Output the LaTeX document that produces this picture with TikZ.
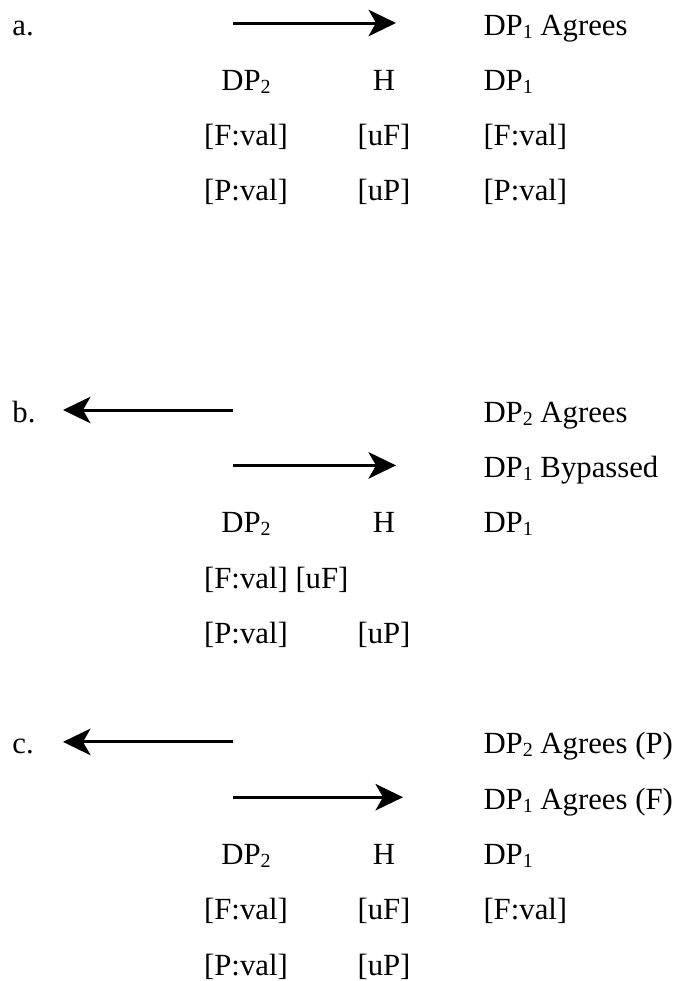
\documentclass[tikz,border=0pt]{standalone}
\usepackage{fontspec}
\setmainfont{Liberation Serif}
\usetikzlibrary{arrows.meta}
\newcommand{\dps}[1]{DP\raisebox{-1.2pt}{\fontsize{8pt}{8pt}\selectfont #1}}

\begin{document}
\begin{tikzpicture}[x=0.4pt, y=-0.4pt,
  txt/.style={font=\fontsize{12.3pt}{14pt}\selectfont, inner sep=0pt},
  lbl/.style={txt, anchor=base west},
  col/.style={txt, anchor=base},
  res/.style={txt, anchor=base west},
  agr/.style={-{Stealth[length=11pt, width=10.6pt, inset=3pt]}, line width=1.2pt},
]
\path[use as bounding box, fill=white] (0,0) rectangle (683,981);

% a.
\node[lbl] (la) at (12,35) {a.};
\coordinate (a-r0) at (233,23);
\coordinate (a-r1) at (396,23);
\draw[agr] (a-r0) -- (a-r1);
\node[res] (a-res) at (483,35) {\dps{1} Agrees};

\node[col] (a-dp2) at (246,90.3) {\dps{2}};
\node[col] (a-h) at (384,90.3) {H};
\node[res] (a-dp1) at (483,90.3) {\dps{1}};
\node[col] (a-f2) at (246,145.6) {[F:val]};
\node[col] (a-fh) at (384,145.6) {[uF]};
\node[res] (a-f1) at (483,145.6) {[F:val]};
\node[col] (a-p2) at (246,200.9) {[P:val]};
\node[col] (a-ph) at (384,200.9) {[uP]};
\node[res] (a-p1) at (483,200.9) {[P:val]};

% b.
\node[lbl] (lb) at (12,422.1) {b.};
\coordinate (b-l0) at (233,410);
\coordinate (b-l1) at (63,410);
\draw[agr] (b-l0) -- (b-l1);
\node[res] (b-res2) at (483,422.1) {\dps{2} Agrees};
\coordinate (b-r0) at (233,465.4);
\coordinate (b-r1) at (396,465.4);
\draw[agr] (b-r0) -- (b-r1);
\node[res] (b-res1) at (483,477.4) {\dps{1} Bypassed};

\node[col] (b-dp2) at (246,532.7) {\dps{2}};
\node[col] (b-h) at (384,532.7) {H};
\node[res] (b-dp1) at (483,532.7) {\dps{1}};
\node[col] (b-f2) at (246,588) {[F:val]};
\node[res] (b-fh) at (295,588) {[uF]};
\node[col] (b-p2) at (246,643.3) {[P:val]};
\node[col] (b-ph) at (384,643.3) {[uP]};

% c.
\node[lbl] (lc) at (12,753.9) {c.};
\coordinate (c-l0) at (233,741.9);
\coordinate (c-l1) at (63,741.9);
\draw[agr] (c-l0) -- (c-l1);
\node[res] (c-res2) at (483,753.9) {\dps{2} Agrees (P)};
\coordinate (c-r0) at (233,797.2);
\coordinate (c-r1) at (403,797.2);
\draw[agr] (c-r0) -- (c-r1);
\node[res] (c-res1) at (483,809.2) {\dps{1} Agrees (F)};

\node[col] (c-dp2) at (246,864.5) {\dps{2}};
\node[col] (c-h) at (384,864.5) {H};
\node[res] (c-dp1) at (483,864.5) {\dps{1}};
\node[col] (c-f2) at (246,919.8) {[F:val]};
\node[col] (c-fh) at (384,919.8) {[uF]};
\node[res] (c-f1) at (483,919.8) {[F:val]};
\node[col] (c-p2) at (246,975.1) {[P:val]};
\node[col] (c-ph) at (384,975.1) {[uP]};
\end{tikzpicture}
\end{document}
